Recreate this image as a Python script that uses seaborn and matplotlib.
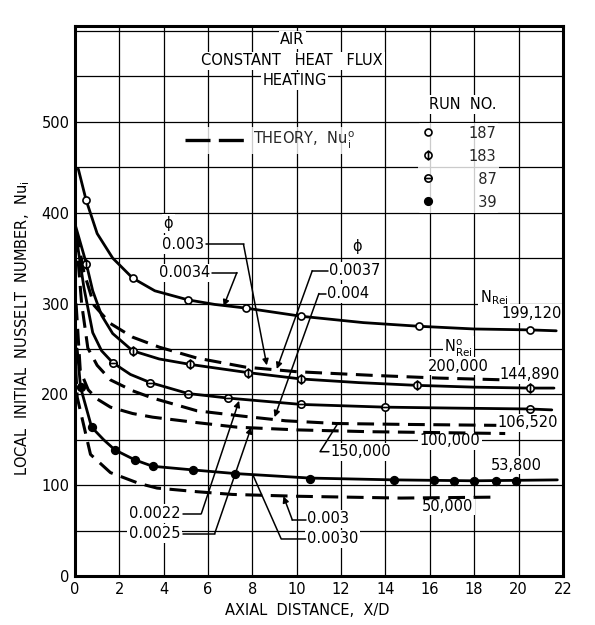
import matplotlib
matplotlib.use("Agg")
import matplotlib.pyplot as plt
import numpy as np
import seaborn as sns
from matplotlib.lines import Line2D
from matplotlib.path import Path

sns.set_theme(style="white")
plt.rcParams["font.family"] = ["DejaVu Sans"]
plt.rcParams["mathtext.default"] = "regular"

FS = 10.5

# ---- measured points (read off the chart) ----
# run 187, N_Rei = 199,120  (open circles)
run187_x = [0.5, 2.6, 5.1, 7.7, 10.2, 15.5, 20.5]
run187_y = [414, 328, 304, 295, 286, 275, 271]
# run 183, N_Rei = 144,890  (circle + vertical bar)
run183_x = [0.5, 2.6, 5.2, 7.8, 10.2, 15.4, 20.5]
run183_y = [344, 248, 233, 224, 217, 210, 207]
# run 87, N_Rei = 106,520  (circle + horizontal bar)
run87_x = [1.7, 3.4, 5.1, 6.9, 10.2, 14.0, 20.5]
run87_y = [235, 213, 201, 196, 189, 186, 184]
# run 39, N_Rei = 53,800  (filled circles)
run39_x = [0.25, 0.75, 1.8, 2.7, 3.5, 5.3, 7.2, 10.6, 14.4, 16.2, 17.1, 18.0, 19.0, 19.9]
run39_y = [208, 164, 139, 128, 121, 117, 113, 107, 106, 106, 105, 105, 105, 105]

# ---- faired solid curves through the data ----
fit187_x = [0.15, 0.5, 1.0, 1.7, 2.6, 3.6, 5.1, 6.3, 7.7, 10.2, 13.0, 15.5, 18.0, 20.5, 21.7]
fit187_y = [448, 414, 377, 350, 328, 314, 304, 299, 295, 286, 279, 275, 272, 271, 270]
fit183_x = [0.03, 0.5, 0.8, 1.2, 1.7, 2.6, 3.8, 5.2, 7.8, 10.2, 12.8, 15.4, 18.0, 20.5, 21.6]
fit183_y = [385, 345, 314, 287, 267, 248, 239, 233, 224, 217, 213, 210, 208, 207, 207]
fit87_x = [0.05, 0.4, 0.8, 1.2, 1.7, 2.5, 3.4, 5.1, 6.9, 10.2, 14.0, 17.0, 20.5, 21.5]
fit87_y = [375, 318, 268, 248, 235, 222, 213, 201, 196, 189, 186, 185, 184, 183]
fit39_x = [0.1, 0.25, 0.75, 1.3, 1.8, 2.7, 3.5, 5.3, 7.2, 10.6, 14.4, 18.0, 21.75]
fit39_y = [250, 208, 164, 150, 139, 128, 121, 117, 113, 108, 106, 105, 106]

# ---- theory curves, Nu_i^o (dashed) ----
th200_x = [0.05, 0.4, 0.86, 1.6, 2.6, 3.8, 5.5, 7.7, 10.0, 13.4, 16.4, 19.4]
th200_y = [380, 335, 298, 278, 263, 252, 240, 230, 225, 221, 218, 216]
th150_x = [0.05, 0.3, 0.58, 1.0, 1.6, 2.6, 3.5, 5.5, 7.6, 9.5, 11.8, 15.0, 19.0]
th150_y = [375, 300, 251, 232, 216, 204, 196, 182, 176, 171, 168, 167, 166]
th100_x = [0.05, 0.24, 0.6, 1.0, 1.6, 2.6, 3.5, 5.5, 7.3, 10.0, 13.3, 16.4, 19.4]
th100_y = [300, 226, 205, 195, 186, 179, 175, 169, 164, 161, 159, 158, 157]
th50_x = [0.03, 0.1, 0.7, 1.6, 2.9, 3.7, 5.5, 7.1, 10.0, 14.7, 18.8]
th50_y = [230, 197, 134, 114, 102, 97, 93, 90, 88, 86, 87]

run_labels = ["187", "183", "\u200787", "\u200739"]

# markers: plain circle, circle with vertical bar, circle with horizontal bar
circ = Path.unit_circle()
phi_v = Path.make_compound_path(circ, Path([[0, -1.45], [0, 1.45]], [Path.MOVETO, Path.LINETO]))
phi_h = Path.make_compound_path(circ, Path([[-1, 0], [1, 0]], [Path.MOVETO, Path.LINETO]))

fig = plt.figure(figsize=(5.95, 6.25), dpi=100)
ax = fig.add_axes([0.126, 0.078, 0.82, 0.88])

for xs, ys in [(fit187_x, fit187_y), (fit183_x, fit183_y), (fit87_x, fit87_y), (fit39_x, fit39_y)]:
    sns.lineplot(x=xs, y=ys, ax=ax, color="black", lw=2.0, sort=False, estimator=None, zorder=3)

for xs, ys in [(th200_x, th200_y), (th150_x, th150_y), (th100_x, th100_y), (th50_x, th50_y)]:
    sns.lineplot(x=xs, y=ys, ax=ax, color="black", lw=2.2, linestyle=(0, (5.5, 2.8)),
                 sort=False, estimator=None, zorder=3)

mk = dict(ax=ax, edgecolor="black", linewidth=1.2, zorder=4)
sns.scatterplot(x=run187_x, y=run187_y, marker="o", s=26, color="white", **mk)
sns.scatterplot(x=run183_x, y=run183_y, marker=phi_v, s=58, color="white", **mk)
sns.scatterplot(x=run87_x, y=run87_y, marker=phi_h, s=28, color="white", **mk)
sns.scatterplot(x=run39_x, y=run39_y, marker="o", s=30, color="black", **mk)

ax.set_xlim(0, 22)
ax.set_ylim(0, 605)
ax.set_xticks(range(0, 23, 2))
yt = np.arange(0, 601, 50)
ax.set_yticks(yt)
ax.set_yticklabels([str(v) if v % 100 == 0 and v <= 500 else "" for v in yt])
ax.grid(True, color="black", lw=0.9)
ax.set_axisbelow(True)
ax.tick_params(length=0, labelsize=FS, pad=4, colors="black")
for s in ax.spines.values():
    s.set_linewidth(2.2)
    s.set_color("black")

ax.set_xlabel("AXIAL  DISTANCE,  X/D", fontsize=FS, color="black")
ax.xaxis.set_label_coords(0.477, -0.048)
ax.set_ylabel("LOCAL  INITIAL  NUSSELT  NUMBER,  Nu$_i$", fontsize=FS, color="black")
ax.yaxis.set_label_coords(-0.088, 0.45)

box = dict(facecolor="white", edgecolor="none", pad=1.2)


def label(x, y, s, ha="center"):
    ax.text(x, y, s, ha=ha, va="center", fontsize=FS, color="black", bbox=box, zorder=2.5)


label(9.8, 590, "AIR")
label(9.8, 567, "CONSTANT   HEAT   FLUX")
label(9.9, 545, "HEATING")
label(17.5, 519, "RUN  NO.")
label(4.2, 388, "\u03d5")
label(12.7, 363, "\u03d5")
label(18.9, 307, "N$_{Rei}$")
label(20.6, 289, "199,120")
label(17.3, 251, "N$_{Rei}^{o}$")
label(17.3, 231, "200,000")
label(20.5, 222, "144,890")
label(20.4, 169, "106,520")
label(16.9, 149, "100,000")
label(19.9, 122, "53,800")
label(16.8, 77, "50,000")

# phi labels with leaders: text, anchor, ha, leader polyline, arrow?
leaders = [
    ("0.003", (5.8, 365), "right", [(5.9, 365), (7.6, 365), (8.65, 232)], True),
    ("0.0034", (6.1, 334), "right", [(6.2, 334), (7.3, 334), (6.7, 297)], True),
    ("0.0037", (11.45, 336), "left", [(11.4, 336), (10.7, 336), (9.1, 228)], True),
    ("0.004", (11.35, 311), "left", [(11.3, 311), (11.0, 311), (9.0, 175)], True),
    ("0.0022", (4.75, 69), "right", [(4.85, 69), (5.7, 69), (7.4, 193)], True),
    ("0.0025", (4.75, 47), "right", [(4.85, 47), (6.3, 47), (7.95, 164)], True),
    ("0.003", (10.45, 63), "left", [(10.4, 62), (9.8, 62), (9.4, 88)], True),
    ("0.0030", (10.45, 41), "left", [(10.4, 41), (9.3, 41), (8.05, 110)], False),
    ("150,000", (11.5, 137), "left", [(11.45, 137), (11.05, 137), (11.85, 168)], False),
]
for txt, (tx, ty), ha, pts, arrow in leaders:
    label(tx, ty, txt, ha=ha)
    px, py = zip(*pts)
    if arrow:
        ax.plot(px[:-1], py[:-1], color="black", lw=1.1, zorder=3)
        ax.annotate("", xy=pts[-1], xytext=pts[-2],
                    arrowprops=dict(arrowstyle="-|>", color="black", lw=1.1,
                                    mutation_scale=9, shrinkA=0, shrinkB=0), zorder=3)
    else:
        ax.plot(px, py, color="black", lw=1.1, zorder=3)

# theory key
th_handle = Line2D([], [], color="black", lw=2.4, linestyle=(0, (7.5, 2.5)))
leg1 = ax.legend([th_handle], ["THEORY,  Nu$_i^o$"], loc="center left",
                 bbox_to_anchor=(4.85 / 22, 479 / 605), handlelength=4.0,
                 handletextpad=0.6, borderpad=0.2, borderaxespad=0,
                 fontsize=FS, frameon=True)
leg1.get_frame().set_edgecolor("none")
leg1.get_frame().set_facecolor("white")
ax.add_artist(leg1)

run_handles = [
    Line2D([], [], ls="none", marker="o", ms=5.0, mfc="white", mec="black", mew=1.2),
    Line2D([], [], ls="none", marker=phi_v, ms=7.4, mfc="white", mec="black", mew=1.2),
    Line2D([], [], ls="none", marker=phi_h, ms=5.2, mfc="white", mec="black", mew=1.2),
    Line2D([], [], ls="none", marker="o", ms=5.4, mfc="black", mec="black", mew=1.2),
]
leg2 = ax.legend(run_handles, run_labels, loc="upper left",
                 bbox_to_anchor=(15.45 / 22, 499 / 605), handlelength=1.0,
                 handletextpad=2.3, labelspacing=0.55, borderpad=0.2,
                 borderaxespad=0, fontsize=FS, frameon=True)
leg2.get_frame().set_edgecolor("none")
leg2.get_frame().set_facecolor("white")

fig.savefig("out.png", dpi=100)
